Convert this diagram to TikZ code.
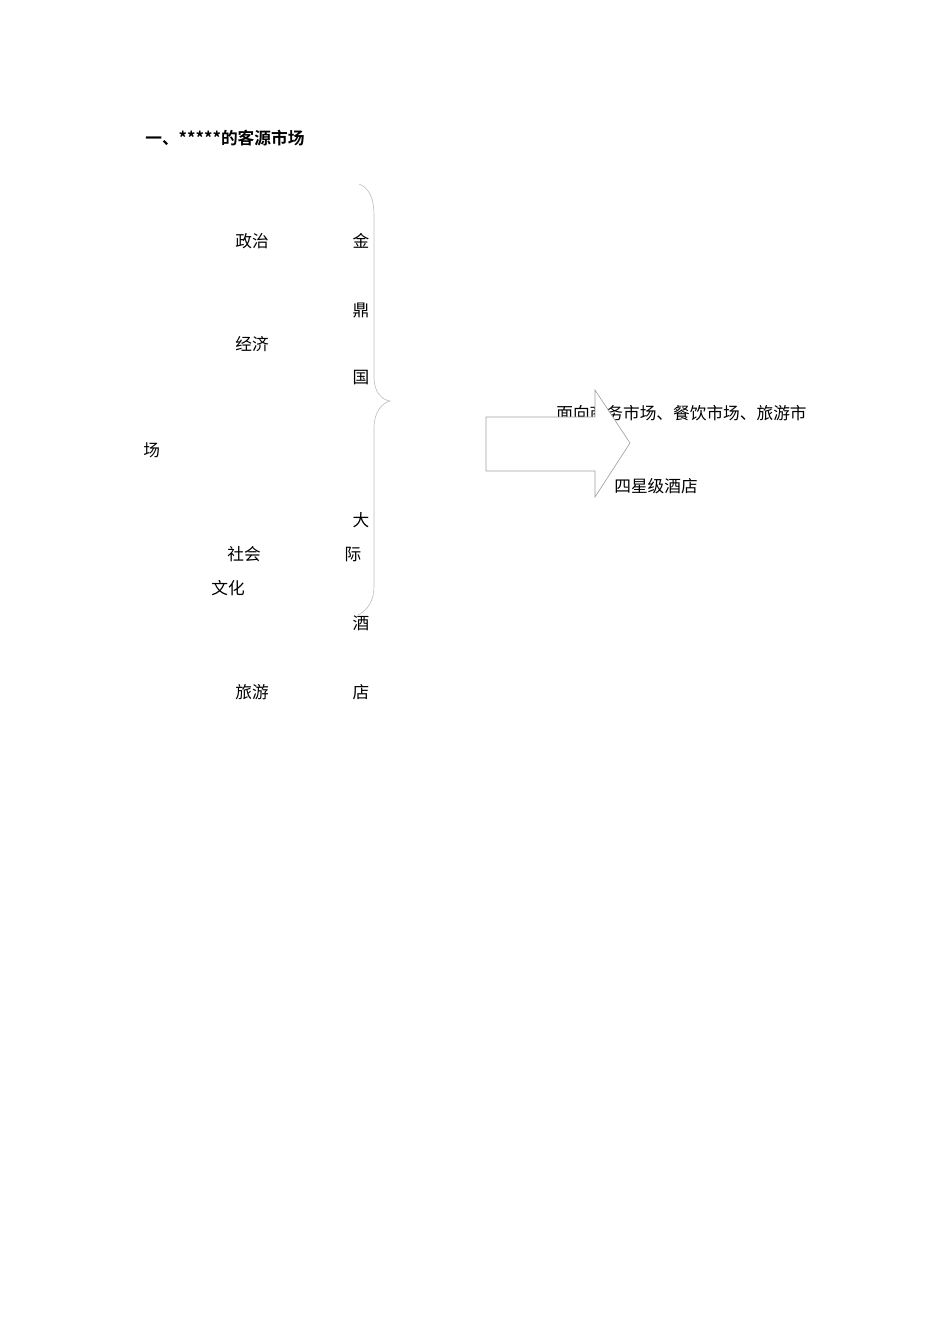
\documentclass[tikz,border=0pt]{standalone}
\usepackage{fontspec}
\usepackage{tikz}
\newfontfamily\cjk[BoldFont={Noto Sans CJK SC Bold}]{Noto Sans CJK SC}
\definecolor{bracegray}{RGB}{190,190,190}
\definecolor{arrowgray}{RGB}{160,160,160}

\begin{document}
\begin{tikzpicture}[x=0.02211cm, y=-0.02211cm,
		txt/.style={inner sep=0pt, font=\cjk\fontsize{10.5}{12}\selectfont},
		ttl/.style={txt, anchor=west, font=\cjk\bfseries\fontsize{10.5}{12}\selectfont}]
			\useasboundingbox (0,0) rectangle (950,1344);

			\node[ttl] (title) at (145,138) {一、*****的客源市场};

			% factors on the left
			\node[txt] (zhengzhi) at (252,241) {政治};
			\node[txt] (jingji) at (252,344) {经济};
			\node[txt, anchor=west] (chang) at (143,450) {场};
			\node[txt] (shehui) at (244,554) {社会};
			\node[txt] (wenhua) at (228,588) {文化};
			\node[txt] (lvyou) at (252,692) {旅游};

			% hotel name, one character per line
			\node[txt] (jin) at (361,241) {金};
			\node[txt] (ding) at (361,310) {鼎};
			\node[txt] (guo) at (361,378) {国};
			\node[txt] (da) at (361,520) {大};
			\node[txt] (ji) at (353,554) {际};
			\node[txt] (jiu) at (361,623) {酒};
			\node[txt] (dian) at (361,692) {店};

			% brace
			\coordinate (B1) at (359,184);
			\coordinate (B2) at (390,401);
			\coordinate (B3) at (358,615);
			\draw[bracegray, thin] (B1) .. controls (370,188) and (374,200) .. (374,215)
				-- (374,378) .. controls (374,392) and (382,400) .. (B2)
				.. controls (382,403) and (374,412) .. (374,428)
				-- (374,587) .. controls (374,600) and (368,610) .. (B3);

			% market text, partly hidden by the arrow
			\node[txt, anchor=west] (markets) at (556,413) {面向商务市场、餐饮市场、旅游市};
			\node[txt, anchor=west] (sixing) at (614,486) {四星级酒店};

			% big arrow
			\draw[arrowgray, fill=white, thin] (486,417) -- (595,417) -- (595,390) -- (630,443)
				-- (595,497) -- (595,471) -- (486,471) -- cycle;
		\end{tikzpicture}
\end{document}
